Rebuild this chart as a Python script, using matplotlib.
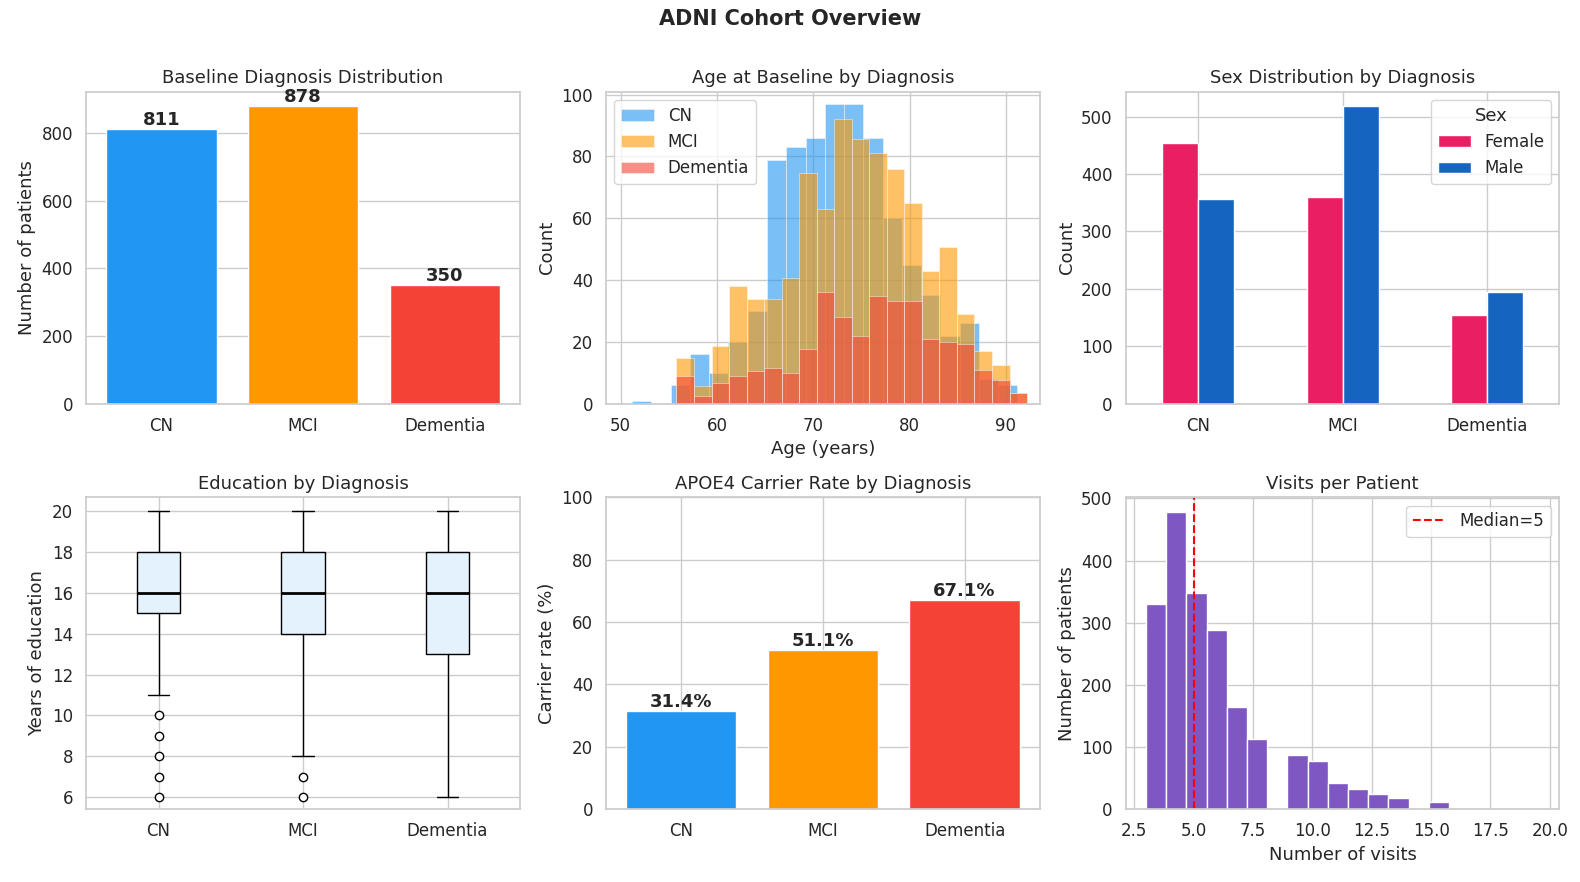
import numpy as np
import matplotlib
matplotlib.use("Agg")
import matplotlib.pyplot as plt
import seaborn as sns

sns.set_theme(style="whitegrid")
plt.rcParams['font.family'] = ['DejaVu Sans']

groups = ["CN", "MCI", "Dementia"]
colors = ["#2196F3", "#FF9800", "#F44336"]
n_patients = [811, 878, 350]

cn_edges_start, cn_width = 51.2, 2.0
mci_edges_start, mci_width = 55.8, 1.82
cn_age_counts = [1, 0, 6, 16, 10, 20, 30, 79, 83, 86, 97, 97, 86, 60, 45, 35, 22, 26, 8, 6]
mci_age_counts = [14.6, 5.6, 18.5, 38, 33.8, 33.8, 40.8, 74.6, 63, 92, 85.8, 81, 76, 65, 42.8, 50.7, 29, 16.9, 12.5, 3.5]
dem_age_counts = [8.8, 2.5, 6.7, 8.8, 10.7, 11.5, 9.9, 17.8, 36, 28, 22, 34.8, 33.2, 33.2, 21, 20, 19.4, 11, 7.7, 3.5]

sex_female = [455, 360, 155]
sex_male = [356, 518, 195]

edu_stats = [
    dict(med=16, q1=15, q3=18, whislo=11, whishi=20, fliers=[10, 9, 8, 7, 6]),
    dict(med=16, q1=14, q3=18, whislo=8, whishi=20, fliers=[7, 6]),
    dict(med=16, q1=13, q3=18, whislo=6, whishi=20, fliers=[]),
]

apoe4_rate = [31.4, 51.1, 67.1]

visit_edges = np.linspace(3, 20, 21)
visit_counts = [330, 478, 348, 288, 165, 113, 0, 88, 78, 43, 32, 25, 18, 0, 12, 0, 0, 0, 0, 0]
median_visits = 5

fig, axes = plt.subplots(2, 3, figsize=(15.8, 8.82), dpi=100)
fig.suptitle("ADNI Cohort Overview", fontsize=15, fontweight="bold", y=0.99)

def frame(ax):
    for s in ax.spines.values():
        s.set_color("#cccccc")

# 1
ax = axes[0, 0]
x = np.arange(3)
ax.bar(x, n_patients, color=colors, width=0.78)
for xi, v in zip(x, n_patients):
    ax.text(xi, v, str(v), ha="center", va="bottom", fontweight="bold", fontsize=13)
ax.set_xticks(x, groups)
ax.set_ylabel("Number of patients", fontsize=13)
ax.set_title("Baseline Diagnosis Distribution", fontsize=13)
ax.set_ylim(0, 922)
ax.grid(axis="x", visible=False)

# 2
ax = axes[0, 1]
for name, counts, start, w, c in [("CN", cn_age_counts, cn_edges_start, cn_width, colors[0]),
                                  ("MCI", mci_age_counts, mci_edges_start, mci_width, colors[1]),
                                  ("Dementia", dem_age_counts, mci_edges_start, mci_width, colors[2])]:
    edges = start + w * np.arange(len(counts) + 1)
    ax.hist(edges[:-1], bins=edges, weights=counts, color=c, alpha=0.6, label=name,
            edgecolor="white", linewidth=0.5)
ax.set_xlim(48.5, 93.5)
ax.set_ylim(0, 101)
ax.set_xlabel("Age (years)", fontsize=13)
ax.set_ylabel("Count", fontsize=13)
ax.set_title("Age at Baseline by Diagnosis", fontsize=13)
ax.legend(loc="upper left", fontsize=12)

# 3
ax = axes[0, 2]
w = 0.25
ax.bar(x - w / 2, sex_female, w, color="#E91E63", label="Female")
ax.bar(x + w / 2, sex_male, w, color="#1565C0", label="Male")
ax.set_xticks(x, groups)
ax.set_ylabel("Count", fontsize=13)
ax.set_title("Sex Distribution by Diagnosis", fontsize=13)
ax.legend(title="Sex", fontsize=12, title_fontsize=13, loc="upper right")
ax.set_xlim(-0.5, 2.5)

# 4
ax = axes[1, 0]
ax.bxp(edu_stats, positions=[1, 2, 3], widths=0.3, patch_artist=True,
       boxprops=dict(facecolor="#E3F2FD", edgecolor="black"),
       medianprops=dict(color="black", linewidth=2),
       flierprops=dict(marker="o", markerfacecolor="white", markeredgecolor="black"))
ax.set_xticks([1, 2, 3], groups)
ax.set_ylabel("Years of education", fontsize=13)
ax.set_title("Education by Diagnosis", fontsize=13)
ax.set_ylim(5.4, 20.7)
ax.set_xlim(0.5, 3.5)

# 5
ax = axes[1, 1]
ax.bar(x, apoe4_rate, color=colors, width=0.78)
for xi, v in zip(x, apoe4_rate):
    ax.text(xi, v, f"{v}%", ha="center", va="bottom", fontweight="bold", fontsize=13)
ax.set_xticks(x, groups)
ax.set_ylim(0, 100)
ax.set_ylabel("Carrier rate (%)", fontsize=13)
ax.set_title("APOE4 Carrier Rate by Diagnosis", fontsize=13)

# 6
ax = axes[1, 2]
ax.hist(visit_edges[:-1], bins=visit_edges, weights=visit_counts, color="#7E57C2",
        edgecolor="white")
ax.axvline(median_visits, color="red", linestyle="--", linewidth=1.5, label=f"Median={median_visits}")
ax.set_xlim(2.15, 20.4)
ax.set_ylim(0, 502)
ax.set_xlabel("Number of visits", fontsize=13)
ax.set_ylabel("Number of patients", fontsize=13)
ax.set_title("Visits per Patient", fontsize=13)
ax.legend(fontsize=12, loc="upper right")

for ax in axes.flat:
    frame(ax)
    ax.tick_params(labelsize=12)

fig.tight_layout(rect=(0, 0, 1, 0.985))
fig.subplots_adjust(hspace=0.3)
fig.savefig("out.png")
